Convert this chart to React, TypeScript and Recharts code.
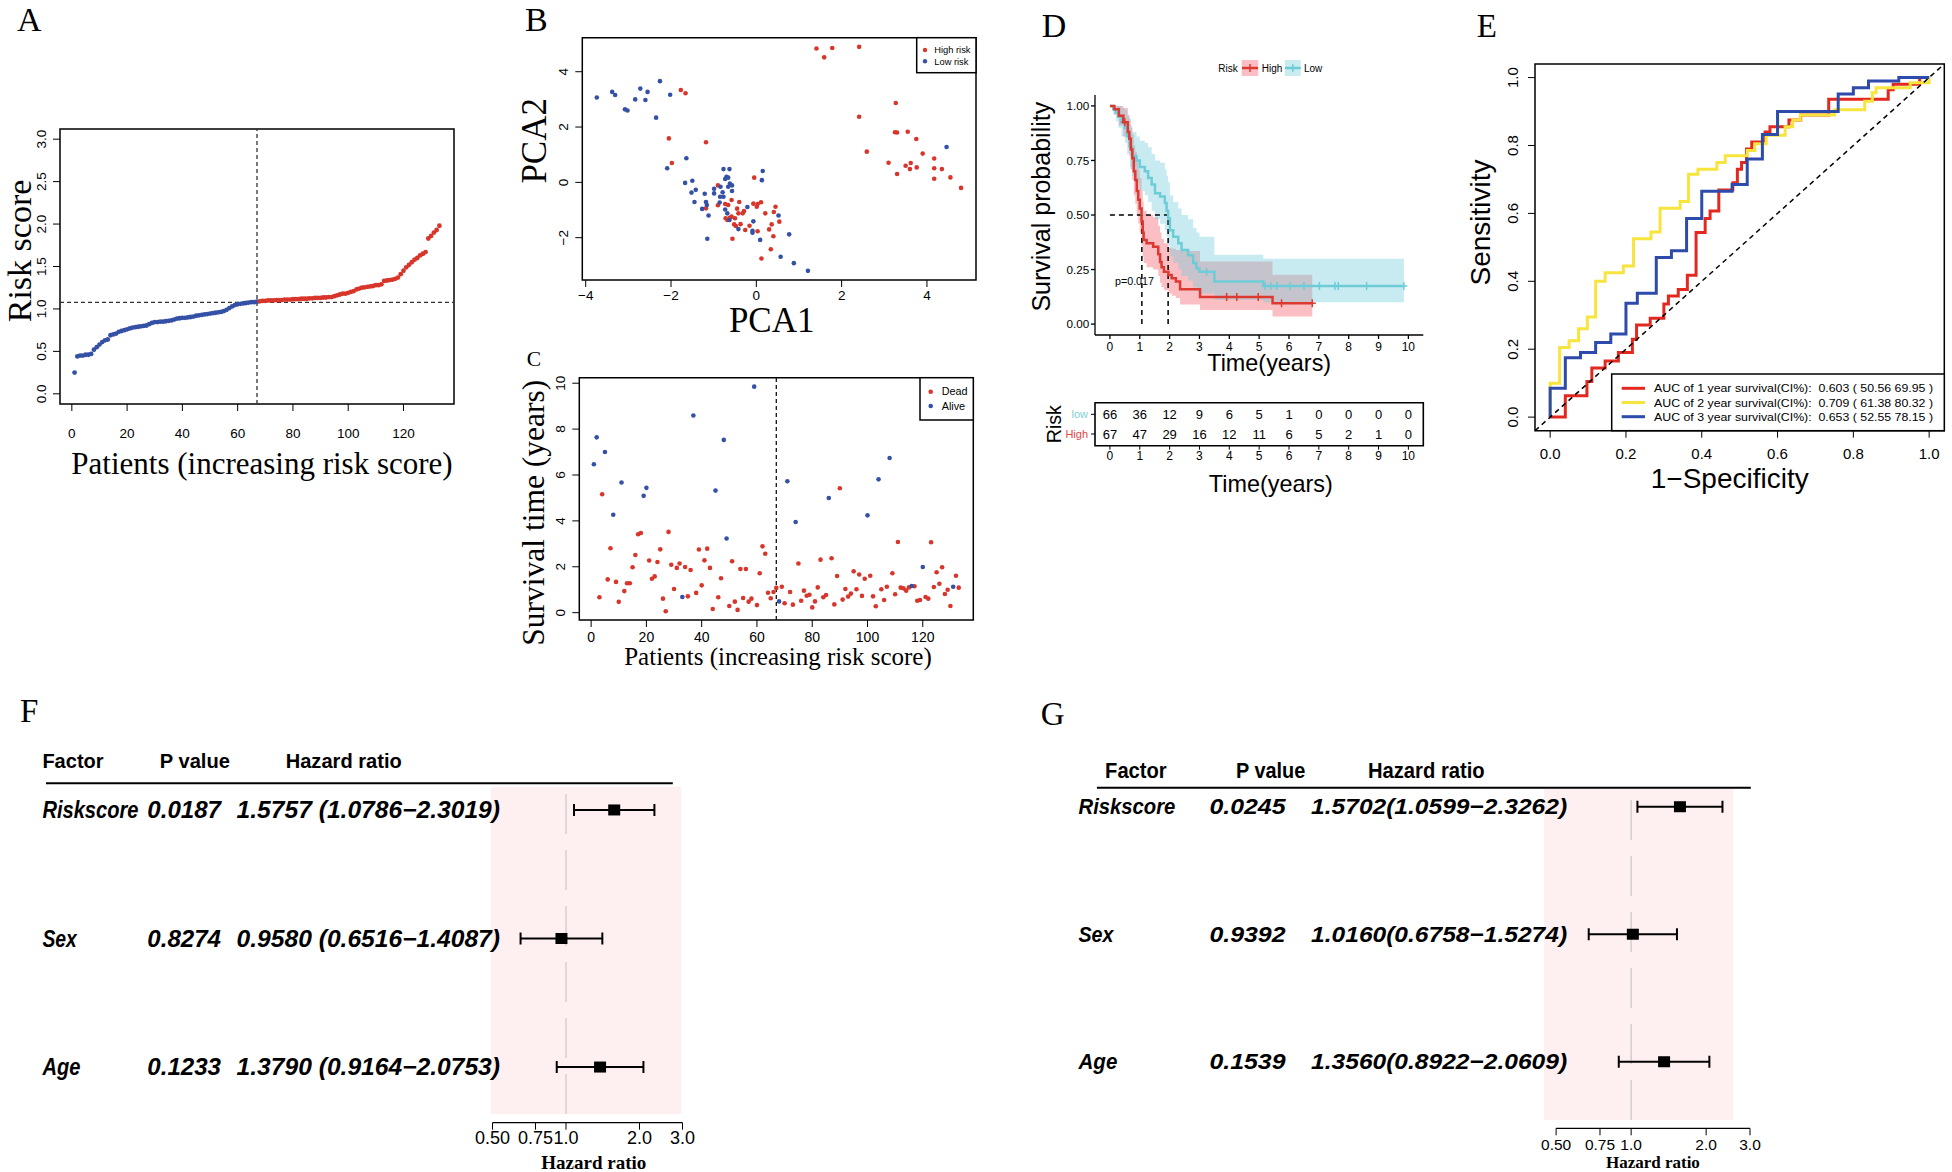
import React from "react";
import {
  ScatterChart,
  Scatter,
  LineChart,
  Line,
  ComposedChart,
  Area,
  XAxis,
  YAxis,
  ReferenceLine,
  ReferenceArea,
} from "recharts";

const SANS = '"Liberation Sans", Arial, Helvetica, sans-serif';
const SERIF = '"Liberation Serif", "Times New Roman", Times, serif';

const RED = "#D8352B";
const BLUE = "#3451A6";

// ---------- A: risk score per patient (sorted) ----------
const riskScores = [
  0.25, 0.44, 0.45, 0.45, 0.46, 0.46, 0.47, 0.52, 0.55, 0.58,
  0.61, 0.63, 0.64, 0.69, 0.7, 0.71, 0.73, 0.74, 0.75, 0.76,
  0.77, 0.78, 0.785, 0.79, 0.795, 0.8, 0.805, 0.82, 0.835, 0.845,
  0.845, 0.85, 0.85, 0.855, 0.86, 0.865, 0.875, 0.885, 0.89, 0.895,
  0.895, 0.9, 0.905, 0.91, 0.92, 0.925, 0.93, 0.935, 0.94, 0.945,
  0.95, 0.955, 0.96, 0.965, 0.975, 0.99, 1.01, 1.03, 1.045, 1.055,
  1.06, 1.065, 1.07, 1.075, 1.08, 1.08, 1.085, 1.09, 1.095, 1.095,
  1.1, 1.1, 1.1, 1.105, 1.105, 1.105, 1.11, 1.11, 1.11, 1.115,
  1.115, 1.115, 1.12, 1.12, 1.12, 1.125, 1.125, 1.13, 1.13, 1.13,
  1.135, 1.135, 1.14, 1.14, 1.15, 1.16, 1.17, 1.18, 1.18, 1.19,
  1.2, 1.21, 1.23, 1.24, 1.25, 1.255, 1.26, 1.265, 1.27, 1.28,
  1.28, 1.29, 1.33, 1.335, 1.34, 1.345, 1.355, 1.37, 1.41, 1.45,
  1.49, 1.52, 1.55, 1.58, 1.6, 1.63, 1.65, 1.67, 1.83, 1.86,
  1.9, 1.93, 1.98,
];
const riskCutoff = 1.078;
const nLowRisk = 67;

// ---------- B: PCA ----------
const pcaHigh = [
  [1.41, 4.84], [1.59, 4.52], [1.78, 4.86], [2.41, 4.9], [-1.77, 3.34], [-1.66, 3.22],
  [-2.05, 1.59], [-1.18, 1.45], [-1.98, 0.7], [3.27, 2.87], [2.41, 2.37], [3.25, 1.81],
  [3.3, 1.8], [3.55, 1.83], [3.75, 1.57], [2.59, 1.11], [3.9, 1.04], [3.1, 0.71],
  [4.17, 0.86], [3.5, 0.6], [3.62, 0.7], [3.6, 0.48], [3.76, 0.54], [3.3, 0.3],
  [4.17, 0.51], [4.35, 0.48], [4.17, 0.13], [4.55, 0.18], [4.8, -0.2], [-0.05, 0.17],
  [-0.9, -0.11], [-0.9, -0.83], [-0.73, -0.78], [-0.66, -0.82], [-0.58, -0.64], [-0.4, -0.71],
  [-0.29, -1.04], [-0.32, -1.12], [-0.42, -1.12], [-0.5, -1.3], [-0.58, -1.24], [-0.68, -1.36],
  [-0.72, -1.3], [-0.52, -1.52], [-0.48, -1.58], [-0.37, -1.51], [-0.26, -1.72], [-0.16, -1.57],
  [-0.56, -2.04], [-0.07, -0.77], [0.01, -0.88], [0.03, -0.78], [0.11, -0.72], [0.21, -1.12],
  [0.03, -1.77], [0.3, -1.7], [0.36, -1.52], [0.45, -0.88], [0.41, -1.07], [0.54, -1.42],
  [0.4, -1.95], [0.34, -2.42], [0.12, -2.75], [-1.18, -0.94], [-0.62, -1.28], [-0.45, -0.95],
];
const pcaLow = [
  [-3.74, 3.07], [-3.38, 3.27], [-3.31, 3.16], [-2.72, 3.39], [-2.55, 3.27], [-2.84, 3.0],
  [-2.6, 2.98], [-3.08, 2.64], [-3.02, 2.6], [-2.26, 3.66], [-2.02, 3.17], [-2.35, 2.34],
  [4.46, 1.28], [-1.64, 0.87], [-2.09, 0.51], [-1.67, -0.02], [-1.5, 0.06], [-1.42, -0.27],
  [-1.52, -0.37], [-1.45, -0.71], [-1.21, -0.41], [-1.18, -0.71], [-1.16, -0.82], [-1.27, -0.96],
  [-1.12, -1.2], [-1.15, -2.04], [-0.99, -0.23], [-0.99, -0.4], [-0.84, -0.16], [-0.79, -0.36],
  [-0.85, -0.52], [-0.77, -0.52], [-0.86, -0.73], [-0.77, 0.48], [-0.63, 0.48], [-0.7, 0.2],
  [-0.66, 0.17], [-0.73, 0.12], [-0.62, -0.04], [-0.57, -0.11], [-0.57, -0.31], [-0.66, -0.16],
  [-0.73, -0.98], [-0.68, -1.12], [-0.63, -1.36], [-0.42, -1.69], [-0.21, -0.89], [-0.07, -1.41],
  [-0.09, -1.75], [-0.09, -1.82], [0.09, -2.08], [0.15, 0.41], [0.13, 0.08], [0.52, -1.2],
  [0.77, -1.88], [0.57, -2.69], [0.88, -2.92], [1.21, -3.2],
];

// ---------- C: survival time and status per patient ----------
const survYears = [
  6.47, 7.64, 0.67, 5.16, 7.0, 1.45, 2.81, 4.27, 1.34, 0.47,
  5.67, 0.94, 1.28, 1.28, 1.98, 2.51, 3.42, 3.47, 5.09, 5.44,
  2.27, 1.48, 1.58, 2.21, 2.76, 0.61, 0.06, 3.52, 2.09, 1.03,
  1.95, 2.14, 0.68, 1.99, 0.71, 1.86, 8.59, 0.86, 2.75, 1.19,
  2.28, 2.79, 1.95, 0.16, 5.32, 0.67, 1.5, 7.53, 3.23, 0.29,
  2.24, 0.48, 0.12, 1.9, 0.64, 1.9, 0.48, 0.61, 9.85, 0.33,
  1.72, 2.89, 2.57, 0.87, 0.63, 0.9, 1.08, 0.49, 1.13, 0.41,
  5.73, 0.9, 0.35, 3.95, 2.14, 0.52, 0.96, 0.74, 0.78, 0.23,
  0.49, 1.1, 2.31, 0.67, 0.77, 5.0, 2.37, 0.36, 1.6, 5.42,
  0.57, 1.03, 0.7, 0.83, 1.8, 1.02, 1.66, 0.73, 1.48, 4.24,
  1.61, 0.71, 0.28, 5.81, 1.02, 0.55, 1.13, 6.74, 1.72, 0.8,
  3.08, 1.09, 1.06, 0.96, 1.1, 1.16, 1.15, 0.52, 0.55, 1.99,
  0.68, 0.61, 3.07, 1.12, 1.76, 1.26, 1.98, 0.81, 1.0, 0.29,
  1.13, 1.61, 1.09,
];
const survDead = [
  0, 0, 1, 1, 0, 1, 1, 0, 1, 1,
  0, 1, 1, 1, 1, 1, 1, 1, 0, 0,
  1, 1, 1, 1, 1, 1, 1, 1, 1, 1,
  1, 1, 0, 1, 1, 1, 0, 1, 1, 1,
  1, 1, 1, 1, 0, 1, 1, 0, 0, 1,
  1, 1, 1, 1, 1, 1, 1, 1, 0, 1,
  1, 1, 1, 1, 1, 1, 1, 0, 1, 1,
  0, 1, 1, 0, 1, 1, 1, 1, 1, 1,
  1, 1, 1, 1, 1, 0, 1, 1, 1, 1,
  1, 1, 1, 1, 1, 1, 1, 1, 1, 0,
  1, 1, 1, 0, 1, 1, 1, 0, 1, 1,
  1, 1, 1, 1, 1, 0, 1, 1, 1, 0,
  1, 1, 1, 1, 1, 1, 1, 1, 1, 1,
  0, 1, 1,
];

// ---------- D: Kaplan-Meier ----------
const kmHighT = [0, 0.15, 0.3, 0.45, 0.6, 0.65, 0.7, 0.75, 0.8, 0.85, 0.9, 0.95, 1.0, 1.06, 1.1, 1.13, 1.23, 1.45, 1.62, 1.68, 1.73, 1.81, 1.96, 2.07, 2.21, 2.35, 3.02, 5.45, 6.78];
const kmHighS = [1, 0.985, 0.955, 0.925, 0.88, 0.85, 0.8, 0.76, 0.7, 0.66, 0.61, 0.57, 0.53, 0.47, 0.42, 0.385, 0.37, 0.355, 0.32, 0.285, 0.26, 0.24, 0.225, 0.21, 0.195, 0.16, 0.124, 0.096, 0.096];
const kmHighLo = [1, 0.96, 0.91, 0.86, 0.81, 0.77, 0.71, 0.66, 0.59, 0.55, 0.5, 0.46, 0.42, 0.36, 0.31, 0.28, 0.26, 0.25, 0.22, 0.19, 0.17, 0.155, 0.14, 0.13, 0.12, 0.09, 0.065, 0.035, 0.035];
const kmHighHi = [1, 1, 1, 0.99, 0.96, 0.94, 0.9, 0.87, 0.82, 0.79, 0.75, 0.71, 0.67, 0.61, 0.56, 0.52, 0.5, 0.49, 0.45, 0.42, 0.39, 0.37, 0.35, 0.345, 0.34, 0.335, 0.287, 0.226, 0.226];
const kmLowT = [0, 0.11, 0.2, 0.28, 0.39, 0.5, 0.58, 0.67, 0.75, 0.89, 1.0, 1.17, 1.28, 1.4, 1.51, 1.68, 1.84, 1.9, 1.95, 2.01, 2.12, 2.29, 2.4, 2.62, 2.79, 2.9, 3.0, 3.5, 5.14, 9.85];
const kmLowS = [1, 0.985, 0.97, 0.95, 0.925, 0.9, 0.86, 0.81, 0.77, 0.75, 0.72, 0.7, 0.67, 0.64, 0.6, 0.585, 0.555, 0.52, 0.485, 0.43, 0.4, 0.37, 0.34, 0.315, 0.28, 0.255, 0.24, 0.195, 0.175, 0.175];
const kmLowLo = [1, 0.96, 0.93, 0.9, 0.86, 0.83, 0.78, 0.72, 0.68, 0.65, 0.61, 0.59, 0.56, 0.52, 0.48, 0.46, 0.43, 0.4, 0.36, 0.31, 0.28, 0.25, 0.22, 0.2, 0.17, 0.15, 0.14, 0.11, 0.1, 0.1];
const kmLowHi = [1, 1, 1, 1, 0.99, 0.98, 0.95, 0.91, 0.88, 0.86, 0.84, 0.83, 0.81, 0.78, 0.75, 0.74, 0.71, 0.68, 0.65, 0.59, 0.56, 0.53, 0.5, 0.48, 0.44, 0.42, 0.4, 0.318, 0.3, 0.3];
const censHighT = [0.5, 3.91, 4.25, 4.97, 5.75, 6.78];
const censHighS = [0.925, 0.124, 0.124, 0.124, 0.096, 0.096];
const censLowT = [3.24, 5.2, 5.39, 5.59, 6.03, 6.5, 7.02, 7.54, 7.65, 8.6, 9.85];
const censLowS = [0.24, 0.175, 0.175, 0.175, 0.175, 0.175, 0.175, 0.175, 0.175, 0.175, 0.175];
const medianHigh = 1.07;
const medianLow = 1.95;
const riskTimes = [0, 1, 2, 3, 4, 5, 6, 7, 8, 9, 10];
const atRiskLow = [66, 36, 12, 9, 6, 5, 1, 0, 0, 0, 0];
const atRiskHigh = [67, 47, 29, 16, 12, 11, 6, 5, 2, 1, 0];

// ---------- E: time-dependent ROC ----------
const roc1 = [
  [0, 0], [0.04, 0.063], [0.097, 0.105], [0.11, 0.145], [0.145, 0.165], [0.18, 0.19],
  [0.217, 0.229], [0.228, 0.271], [0.264, 0.291], [0.3, 0.333], [0.312, 0.357], [0.338, 0.376],
  [0.362, 0.418], [0.385, 0.544], [0.409, 0.585], [0.422, 0.607], [0.445, 0.669], [0.482, 0.69],
  [0.494, 0.73], [0.505, 0.75], [0.518, 0.79], [0.532, 0.81], [0.567, 0.84], [0.58, 0.855],
  [0.63, 0.875], [0.661, 0.89], [0.735, 0.936], [0.892, 0.964], [0.905, 0.98], [0.975, 1], [1, 1],
];
const roc2 = [
  [0, 0], [0, 0.1], [0.025, 0.205], [0.05, 0.225], [0.075, 0.26], [0.098, 0.295], [0.12, 0.4],
  [0.145, 0.425], [0.193, 0.445], [0.22, 0.525], [0.266, 0.545], [0.29, 0.615], [0.343, 0.635],
  [0.365, 0.715], [0.39, 0.73], [0.44, 0.75], [0.462, 0.77], [0.52, 0.785], [0.54, 0.805],
  [0.57, 0.83], [0.62, 0.855], [0.64, 0.875], [0.66, 0.89], [0.75, 0.905], [0.83, 0.93],
  [0.85, 0.955], [0.86, 0.97], [0.95, 0.985], [1, 1],
];
const roc3 = [
  [0, 0], [0, 0.085], [0.04, 0.175], [0.08, 0.19], [0.12, 0.22], [0.16, 0.245], [0.2, 0.335],
  [0.23, 0.365], [0.28, 0.47], [0.32, 0.49], [0.36, 0.585], [0.4, 0.665], [0.48, 0.685],
  [0.52, 0.76], [0.56, 0.832], [0.6, 0.9], [0.76, 0.952], [0.8, 0.97], [0.84, 0.99], [0.92, 1], [1, 1],
];
const rocColors = ["#E3281F", "#F7E43C", "#2D4BAA"];
const rocLabels = [
  "AUC of 1 year survival(CI%):  0.603 ( 50.56 69.95 )",
  "AUC of 2 year survival(CI%):  0.709 ( 61.38 80.32 )",
  "AUC of 3 year survival(CI%):  0.653 ( 52.55 78.15 )",
];

// ---------- F / G: Cox regression ----------
const factors = ["Riskscore", "Sex", "Age"];
const uniP = ["0.0187", "0.8274", "0.1233"];
const uniHR = [1.5757, 0.958, 1.379];
const uniLo = [1.0786, 0.6516, 0.9164];
const uniHi = [2.3019, 1.4087, 2.0753];
const multiP = ["0.0245", "0.9392", "0.1539"];
const multiHR = [1.5702, 1.016, 1.356];
const multiLo = [1.0599, 0.6758, 0.8922];
const multiHi = [2.3262, 1.5274, 2.0609];
const hrTicks = [0.5, 0.75, 1, 2, 3];
const hrTickLabels = ["0.50", "0.75", "1.0", "2.0", "3.0"];

// ---------- helpers ----------
const fmtNum = (v: number) => (v < 0 ? "\u2212" + Math.abs(v) : String(v));

const tickText =
  (size: number, opts: { rotate?: boolean; anchor?: string; fmt?: (v: number) => string; color?: (v: number) => string } = {}) =>
  (props: any) => {
    const { x, y, payload } = props;
    const v = payload.value;
    return (
      <text
        x={x}
        y={y}
        dy="0.35em"
        textAnchor={opts.anchor ?? "middle"}
        fontSize={size}
        fontFamily={SANS}
        fill={opts.color ? opts.color(v) : "#000"}
        transform={opts.rotate ? `rotate(-90, ${x}, ${y})` : undefined}
      >
        {opts.fmt ? opts.fmt(v) : fmtNum(v)}
      </text>
    );
  };

const dot = (r: number, color: string) => (p: any) => <circle cx={p.cx} cy={p.cy} r={r} fill={color} />;

const boxArea = (xd: number[], yd: number[], w = 1.5) => (
  <ReferenceArea x1={xd[0]} x2={xd[1]} y1={yd[0]} y2={yd[1]} fill="none" stroke="#000" strokeWidth={w} ifOverflow="visible" />
);

const pos = (left: number, top: number): React.CSSProperties => ({ position: "absolute", left, top });

function T(props: any) {
  const { x, y, s, children, f = SANS, w, it, rot, a = "middle", c = "#000", tl, dy = "0.35em" } = props;
  return (
    <text
      x={x}
      y={y}
      dy={dy}
      fontSize={s}
      fontFamily={f}
      fontWeight={w}
      fontStyle={it ? "italic" : undefined}
      textAnchor={a}
      fill={c}
      transform={rot ? `rotate(-90, ${x}, ${y})` : undefined}
      textLength={tl}
      lengthAdjust={tl ? "spacingAndGlyphs" : undefined}
      style={{ whiteSpace: "pre" }}
    >
      {children}
    </text>
  );
}

// ---------- panels ----------
function PanelA() {
  const pts = riskScores.map((v, i) => ({ x: i + 1, y: v }));
  const xd = [-4.28, 138.28];
  const yd = [-0.12, 3.12];
  return (
    <div style={pos(0, 100)}>
      <ScatterChart width={480} height={380} margin={{ top: 29, right: 26, bottom: 36, left: 20 }}>
        <XAxis type="number" dataKey="x" domain={xd} allowDataOverflow ticks={[0, 20, 40, 60, 80, 100, 120]} interval={0} height={40} tickSize={7} tickMargin={22} axisLine={false} stroke="#000" tick={tickText(13.5)} />
        <YAxis type="number" dataKey="y" domain={yd} allowDataOverflow ticks={[0, 0.5, 1, 1.5, 2, 2.5, 3]} interval={0} width={40} tickSize={7} tickMargin={11.3} axisLine={false} stroke="#000" tick={tickText(13.5, { rotate: true, fmt: (v) => v.toFixed(1) })} />
        {boxArea(xd, yd)}
        <ReferenceLine y={riskCutoff} stroke="#333" strokeDasharray="4 3" strokeWidth={1.3} />
        <ReferenceLine x={nLowRisk} stroke="#333" strokeDasharray="4 3" strokeWidth={1.3} />
        <Scatter data={pts.slice(0, nLowRisk)} shape={dot(2.4, BLUE)} isAnimationActive={false} />
        <Scatter data={pts.slice(nLowRisk)} shape={dot(2.4, RED)} isAnimationActive={false} />
      </ScatterChart>
    </div>
  );
}

function PanelB() {
  const xd = [-4.08, 5.15];
  const yd = [-3.53, 5.23];
  const hi = pcaHigh.map(([x, y]) => ({ x, y }));
  const lo = pcaLow.map(([x, y]) => ({ x, y }));
  return (
    <div style={pos(530, 10)}>
      <ScatterChart width={460} height={330} margin={{ top: 27.7, right: 14, bottom: 30, left: 12.3 }}>
        <XAxis type="number" dataKey="x" domain={xd} allowDataOverflow ticks={[-4, -2, 0, 2, 4]} interval={0} height={30} tickSize={7} tickMargin={8} axisLine={false} stroke="#000" tick={tickText(13.5)} />
        <YAxis type="number" dataKey="y" domain={yd} allowDataOverflow ticks={[-2, 0, 2, 4]} interval={0} width={40} tickSize={7} tickMargin={12} axisLine={false} stroke="#000" tick={tickText(13.5, { rotate: true })} />
        {boxArea(xd, yd)}
        <Scatter data={hi} shape={dot(2.3, RED)} isAnimationActive={false} />
        <Scatter data={lo} shape={dot(2.3, BLUE)} isAnimationActive={false} />
      </ScatterChart>
    </div>
  );
}

function PanelC() {
  const xd = [-4.28, 138.28];
  const yd = [-0.32, 10.24];
  const pts = survYears.map((v, i) => ({ x: i + 1, y: v, dead: survDead[i] }));
  return (
    <div style={pos(520, 350)}>
      <ScatterChart width={470} height={330} margin={{ top: 27.7, right: 16.7, bottom: 30, left: 19.3 }}>
        <XAxis type="number" dataKey="x" domain={xd} allowDataOverflow ticks={[0, 20, 40, 60, 80, 100, 120]} interval={0} height={30} tickSize={7} tickMargin={9.7} axisLine={false} stroke="#000" tick={tickText(14)} />
        <YAxis type="number" dataKey="y" domain={yd} allowDataOverflow ticks={[0, 2, 4, 6, 8, 10]} interval={0} width={40} tickSize={7} tickMargin={12.3} axisLine={false} stroke="#000" tick={tickText(13.5, { rotate: true })} />
        {boxArea(xd, yd)}
        <ReferenceLine x={nLowRisk} stroke="#111" strokeDasharray="4 3" strokeWidth={1.3} />
        <Scatter data={pts.filter((p) => p.dead === 1)} shape={dot(2.3, RED)} isAnimationActive={false} />
        <Scatter data={pts.filter((p) => p.dead === 0)} shape={dot(2.3, BLUE)} isAnimationActive={false} />
      </ScatterChart>
    </div>
  );
}

const KM_RED = "#DC3A31";
const KM_CYAN = "#6ECCD7";

const plus = (color: string) => (p: any) => (
  <path key={p.index} d={`M${p.cx - 3.5},${p.cy}h7M${p.cx},${p.cy - 4}v8`} stroke={color} strokeWidth={1.5} fill="none" />
);

function PanelD() {
  const hi = kmHighT.map((t, i) => ({ t, s: kmHighS[i], band: [kmHighLo[i], kmHighHi[i]] }));
  const lo = kmLowT.map((t, i) => ({ t, s: kmLowS[i], band: [kmLowLo[i], kmLowHi[i]] }));
  const ch = censHighT.map((t, i) => ({ t, s: censHighS[i] }));
  const cl = censLowT.map((t, i) => ({ t, s: censLowS[i] }));
  return (
    <div style={pos(1040, 50)}>
      <ComposedChart width={400} height={310} margin={{ top: 45, right: 16.7, bottom: 0, left: 10 }}>
        <XAxis type="number" dataKey="t" domain={[-0.5, 10.5]} allowDataOverflow ticks={riskTimes} interval={0} height={25} tickSize={4} tickMargin={7.7} stroke="#000" strokeWidth={1.3} tick={tickText(12)} />
        <YAxis type="number" domain={[-0.05, 1.05]} allowDataOverflow ticks={[0, 0.25, 0.5, 0.75, 1]} interval={0} width={45} tickSize={4} tickMargin={1.7} stroke="#000" strokeWidth={1.3} tick={tickText(11.7, { anchor: "end", fmt: (v) => v.toFixed(2) })} />
        <Area data={hi} dataKey="band" type="stepAfter" fill="#F25C6A" fillOpacity={0.4} stroke="none" isAnimationActive={false} />
        <Area data={lo} dataKey="band" type="stepAfter" fill="#76CEDB" fillOpacity={0.4} stroke="none" isAnimationActive={false} />
        <ReferenceLine segment={[{ x: 0, y: 0.5 }, { x: medianLow, y: 0.5 }]} stroke="#000" strokeDasharray="5 4" strokeWidth={1.5} />
        <ReferenceLine segment={[{ x: medianHigh, y: 0 }, { x: medianHigh, y: 0.5 }]} stroke="#000" strokeDasharray="5 4" strokeWidth={1.5} />
        <ReferenceLine segment={[{ x: medianLow, y: 0 }, { x: medianLow, y: 0.5 }]} stroke="#000" strokeDasharray="5 4" strokeWidth={1.5} />
        <Line data={lo} dataKey="s" type="stepAfter" stroke={KM_CYAN} strokeWidth={2.5} dot={false} activeDot={false} isAnimationActive={false} />
        <Line data={hi} dataKey="s" type="stepAfter" stroke={KM_RED} strokeWidth={2.5} dot={false} activeDot={false} isAnimationActive={false} />
        <Line data={cl} dataKey="s" stroke="none" dot={plus(KM_CYAN)} activeDot={false} isAnimationActive={false} />
        <Line data={ch} dataKey="s" stroke="none" dot={plus(KM_RED)} activeDot={false} isAnimationActive={false} />
      </ComposedChart>
    </div>
  );
}

function RiskTable() {
  const rowsLow = riskTimes.map((t, i) => ({ t, r: 2, n: atRiskLow[i] }));
  const rowsHigh = riskTimes.map((t, i) => ({ t, r: 1, n: atRiskHigh[i] }));
  const num = (p: any) => (
    <text key={p.index} x={p.cx} y={p.cy} dy="0.35em" textAnchor="middle" fontSize={13} fontFamily={SANS} fill="#000">
      {p.payload.n}
    </text>
  );
  const yd = [0.406, 2.59];
  const xd = [-0.5, 10.5];
  return (
    <div style={pos(1040, 395)}>
      <LineChart width={400} height={70} margin={{ top: 7.7, right: 16.7, bottom: 0, left: 10 }}>
        <XAxis type="number" dataKey="t" domain={xd} allowDataOverflow ticks={riskTimes} interval={0} height={19.3} tickSize={4} tickMargin={6.3} axisLine={false} stroke="#000" tick={tickText(12)} />
        <YAxis type="number" dataKey="r" domain={yd} allowDataOverflow ticks={[1, 2]} interval={0} width={45} tickSize={4} tickMargin={3} axisLine={false} stroke="#000"
          tick={tickText(11, { anchor: "end", fmt: (v) => (v === 2 ? "low" : "High"), color: (v) => (v === 2 ? "#7FD0DA" : "#E2463F") })} />
        {boxArea(xd, yd, 1.6)}
        <Line data={rowsLow} dataKey="r" stroke="none" dot={num} activeDot={false} isAnimationActive={false} />
        <Line data={rowsHigh} dataKey="r" stroke="none" dot={num} activeDot={false} isAnimationActive={false} />
      </LineChart>
    </div>
  );
}

function PanelE() {
  const xd = [-0.04, 1.04];
  const yd = [-0.04, 1.04];
  const series = [roc1, roc2, roc3].map((s) => s.map(([x, y]) => ({ x, y })));
  return (
    <div style={pos(1470, 40)}>
      <LineChart width={482} height={460} margin={{ top: 24, right: 7.7, bottom: 29.3, left: 25 }}>
        <XAxis type="number" dataKey="x" domain={xd} allowDataOverflow ticks={[0, 0.2, 0.4, 0.6, 0.8, 1]} interval={0} height={40} tickSize={7} tickMargin={16.3} axisLine={false} stroke="#000" tick={tickText(15, { fmt: (v) => v.toFixed(1) })} />
        <YAxis type="number" domain={yd} allowDataOverflow ticks={[0, 0.2, 0.4, 0.6, 0.8, 1]} interval={0} width={40} tickSize={7} tickMargin={15.7} axisLine={false} stroke="#000" tick={tickText(15, { rotate: true, fmt: (v) => v.toFixed(1) })} />
        {boxArea(xd, yd)}
        {series.map((d, i) => (
          <Line key={i} data={d} dataKey="y" type="stepAfter" stroke={rocColors[i]} strokeWidth={3} dot={false} activeDot={false} isAnimationActive={false} />
        ))}
        <ReferenceLine segment={[{ x: xd[0], y: yd[0] }, { x: xd[1], y: yd[1] }]} stroke="#000" strokeDasharray="5 4" strokeWidth={1.5} />
      </LineChart>
    </div>
  );
}

type ForestCfg = {
  left: number;
  width: number;
  yAxisW: number;
  marginTop: number;
  marginRight: number;
  xAxisH: number;
  tickMargin: number;
  tickFont: number;
  xd: number[];
  yd: number[];
  bandX: number[];
  bandY0: number;
  cols: number[];
  factorW: number[];
  pW: number;
  hrW: number;
  font: number;
  p: string[];
  hr: number[];
  lo: number[];
  hi: number[];
  spaced: boolean;
};

function Forest({ cfg }: { cfg: ForestCfg }) {
  const rowsY = [3, 2, 1];
  const hrText = (i: number) =>
    cfg.spaced
      ? `${cfg.hr[i].toFixed(4)} (${cfg.lo[i].toFixed(4)}\u2212${cfg.hi[i].toFixed(4)})`
      : `${cfg.hr[i].toFixed(4)}(${cfg.lo[i].toFixed(4)}\u2212${cfg.hi[i].toFixed(4)})`;
  const rowTick = (props: any) => {
    const i = 3 - props.payload.value;
    const y = props.y;
    const common = { y, dy: "0.35em", fontFamily: SANS, fontWeight: "bold", fontStyle: "italic", fontSize: cfg.font, fill: "#000", lengthAdjust: "spacingAndGlyphs" } as any;
    return (
      <g>
        <text x={cfg.cols[0]} textLength={cfg.factorW[i]} {...common}>{factors[i]}</text>
        <text x={cfg.cols[1]} textLength={cfg.pW} {...common}>{cfg.p[i]}</text>
        <text x={cfg.cols[2]} textLength={cfg.hrW} {...common}>{hrText(i)}</text>
      </g>
    );
  };
  const squares = rowsY.map((r, i) => ({ hr: cfg.hr[i], row: r }));
  const cap = (p: any) => <line x1={p.cx} x2={p.cx} y1={p.cy - 6} y2={p.cy + 6} stroke="#000" strokeWidth={2} />;
  const sq = (p: any) => <rect x={p.cx - 6} y={p.cy - 5.5} width={12} height={11} fill="#000" />;
  return (
    <div style={pos(cfg.left, 776)}>
      <ScatterChart width={cfg.width} height={396} margin={{ top: cfg.marginTop, right: cfg.marginRight, bottom: 0, left: 0 }}>
        <XAxis type="number" dataKey="hr" scale="log" domain={cfg.xd} allowDataOverflow ticks={hrTicks} interval={0} height={cfg.xAxisH} tickSize={7} tickMargin={cfg.tickMargin} axisLine={false} stroke="#000"
          tick={tickText(cfg.tickFont, { fmt: (v) => hrTickLabels[hrTicks.indexOf(v)] })} />
        <YAxis type="number" dataKey="row" domain={cfg.yd} allowDataOverflow ticks={rowsY} interval={0} width={cfg.yAxisW} axisLine={false} tickLine={false} tick={rowTick} />
        <ReferenceArea x1={cfg.bandX[0]} x2={cfg.bandX[1]} y1={cfg.bandY0} y2={cfg.yd[1]} fill="#FEF0F0" fillOpacity={1} stroke="none" ifOverflow="visible" />
        <ReferenceLine segment={[{ x: 1, y: cfg.bandY0 }, { x: 1, y: cfg.yd[1] }]} stroke="#C8C8C8" strokeDasharray="40 16" strokeWidth={1.2} />
        <ReferenceLine segment={[{ x: hrTicks[0], y: cfg.yd[0] }, { x: hrTicks[hrTicks.length - 1], y: cfg.yd[0] }]} stroke="#000" strokeWidth={1.3} ifOverflow="visible" />
        {rowsY.map((r, i) => (
          <Scatter key={i} data={[{ hr: cfg.lo[i], row: r }, { hr: cfg.hi[i], row: r }]} line={{ stroke: "#000", strokeWidth: 2 }} lineType="joint" shape={cap} isAnimationActive={false} />
        ))}
        <Scatter data={squares} shape={sq} isAnimationActive={false} />
      </ScatterChart>
    </div>
  );
}

const cfgF: ForestCfg = {
  left: 0, width: 700, yAxisW: 491, marginTop: 10.7, marginRight: 17.5, xAxisH: 49.3, tickMargin: 8.3, tickFont: 18,
  xd: [0.493, 3.0], yd: [0.567, 3.181], bandX: [0.493, 2.96], bandY0: 0.634,
  cols: [42.4, 147.3, 236.6], factorW: [96, 34.4, 38], pW: 73.7, hrW: 263.4, font: 23,
  p: uniP, hr: uniHR, lo: uniLo, hi: uniHi, spaced: true,
};
const cfgG: ForestCfg = {
  left: 1040, width: 740, yAxisW: 504, marginTop: 13, marginRight: 30, xAxisH: 43.7, tickMargin: 9.2, tickFont: 15.5,
  xd: [0.447, 3.0], yd: [0.478, 3.139], bandX: [0.447, 2.57], bandY0: 0.543,
  cols: [38.5, 169.4, 271.1], factorW: [96.9, 35, 38.8], pW: 76.1, hrW: 256, font: 22,
  p: multiP, hr: multiHR, lo: multiLo, hi: multiHi, spaced: false,
};

function Overlay() {
  return (
    <svg width={1952} height={1172} style={{ position: "absolute", left: 0, top: 0, pointerEvents: "none" }}>
      {/* panel letters */}
      <T x={17} y={31} s={34} f={SERIF} a="start" dy="0">A</T>
      <T x={525} y={31} s={34} f={SERIF} a="start" dy="0">B</T>
      <T x={526.7} y={366} s={21.5} f={SERIF} a="start" dy="0">C</T>
      <T x={1041.7} y={37.3} s={34} f={SERIF} a="start" dy="0">D</T>
      <T x={1476.7} y={36.7} s={33} f={SERIF} a="start" dy="0">E</T>
      <T x={20} y={721.7} s={33} f={SERIF} a="start" dy="0">F</T>
      <T x={1040.7} y={725} s={33} f={SERIF} a="start" dy="0">G</T>

      {/* A */}
      <T x={19} y={251} s={34} f={SERIF} rot>Risk score</T>
      <T x={262} y={463} s={31} f={SERIF}>Patients (increasing risk score)</T>

      {/* B */}
      <T x={771.7} y={320} s={35} f={SERIF}>PCA1</T>
      <T x={533.3} y={140.8} s={35} f={SERIF} rot>PCA2</T>
      <rect x={916.7} y={37.7} width={59.3} height={35} fill="#fff" stroke="#000" strokeWidth={1.5} />
      <circle cx={925} cy={50} r={2.2} fill={RED} />
      <circle cx={925} cy={61.3} r={2.2} fill={BLUE} />
      <T x={934.3} y={50} s={9.3} a="start">High risk</T>
      <T x={934.3} y={61.3} s={9.3} a="start">Low risk</T>

      {/* C */}
      <T x={533} y={512.7} s={31.5} f={SERIF} rot>Survival time (years)</T>
      <T x={778} y={656.7} s={25} f={SERIF}>Patients (increasing risk score)</T>
      <rect x={920} y={377.7} width={53.3} height={42.3} fill="#fff" stroke="#000" strokeWidth={1.5} />
      <circle cx={930.7} cy={391.7} r={2.3} fill={RED} />
      <circle cx={930.7} cy={406} r={2.3} fill={BLUE} />
      <T x={941.7} y={391.7} s={10.8} a="start">Dead</T>
      <T x={941.7} y={406} s={10.8} a="start">Alive</T>

      {/* D */}
      <T x={1041} y={206.7} s={25} rot>Survival probability</T>
      <T x={1269.2} y={363.3} s={23.4}>Time(years)</T>
      <T x={1115} y={281.7} s={10.7} a="start">p=0.017</T>
      <T x={1218.3} y={68} s={10} a="start">Risk</T>
      <rect x={1241.7} y={60} width={16.6} height={16} fill="#F9BFC4" />
      <line x1={1242} x2={1258} y1={68} y2={68} stroke={KM_RED} strokeWidth={2.5} />
      <line x1={1250} x2={1250} y1={64} y2={72} stroke={KM_RED} strokeWidth={1.5} />
      <T x={1261.7} y={68} s={10} a="start">High</T>
      <rect x={1285} y={60} width={15.7} height={16} fill="#C8ECF1" />
      <line x1={1285} x2={1300.7} y1={68} y2={68} stroke={KM_CYAN} strokeWidth={2.5} />
      <line x1={1292.8} x2={1292.8} y1={64} y2={72} stroke={KM_CYAN} strokeWidth={1.5} />
      <T x={1304} y={68} s={10} a="start">Low</T>
      <T x={1054} y={424.2} s={19.7} rot>Risk</T>
      <T x={1270.8} y={484.2} s={23.4}>Time(years)</T>

      {/* E */}
      <T x={1480} y={222.5} s={28} rot>Sensitivity</T>
      <T x={1729.7} y={478.3} s={28}>1{"\u2212"}Specificity</T>
      <rect x={1611.7} y={374} width={332.6} height={56.7} fill="#fff" stroke="#000" strokeWidth={1.5} />
      {rocLabels.map((lab, i) => (
        <g key={i}>
          <line x1={1621.7} x2={1645} y1={388.3 + i * 14.2} y2={388.3 + i * 14.2} stroke={rocColors[i]} strokeWidth={3} />
          <T x={1654} y={388.3 + i * 14.2} s={11.5} a="start" tl={279}>{lab}</T>
        </g>
      ))}

      {/* F header */}
      <T x={42.4} y={760.7} s={21} w="bold" a="start" tl={61.2}>Factor</T>
      <T x={159.8} y={760.7} s={21} w="bold" a="start" tl={70.1}>P value</T>
      <T x={285.7} y={760.7} s={21} w="bold" a="start" tl={116.1}>Hazard ratio</T>
      <line x1={46} x2={672.8} y1={783.3} y2={783.3} stroke="#000" strokeWidth={2} />
      <T x={593.8} y={1162} s={19} f={SERIF} w="bold">Hazard ratio</T>

      {/* G header */}
      <T x={1105.1} y={770} s={22} w="bold" a="start" tl={61.6}>Factor</T>
      <T x={1236} y={770} s={22} w="bold" a="start" tl={69.3}>P value</T>
      <T x={1367.9} y={770} s={22} w="bold" a="start" tl={116.8}>Hazard ratio</T>
      <line x1={1096.9} x2={1750.8} y1={787.7} y2={787.7} stroke="#000" strokeWidth={2} />
      <T x={1652.9} y={1162.5} s={17} f={SERIF} w="bold">Hazard ratio</T>
    </svg>
  );
}

export default function App() {
  return (
    <div style={{ position: "absolute", left: 0, top: 0, width: 1952, height: 1172, background: "#fff", overflow: "hidden" }}>
      <PanelA />
      <PanelB />
      <PanelC />
      <PanelD />
      <RiskTable />
      <PanelE />
      <Forest cfg={cfgF} />
      <Forest cfg={cfgG} />
      <Overlay />
    </div>
  );
}
